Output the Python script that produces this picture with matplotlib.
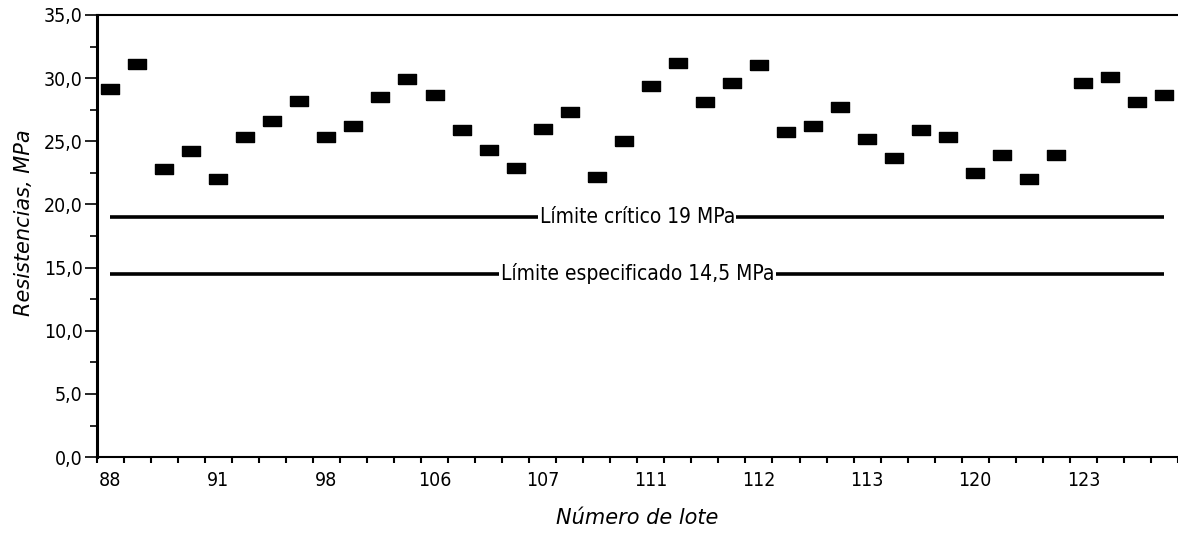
import matplotlib
matplotlib.use("Agg")
import matplotlib.pyplot as plt
from matplotlib.ticker import MultipleLocator

# Resistencia por lote (MPa)
resistencias = [
    29.1, 31.1, 22.8, 24.2, 22.0, 25.3, 26.6, 28.2, 25.3, 26.2,
    28.5, 29.9, 28.7, 25.9, 24.3, 22.9, 26.0, 27.3, 22.2, 25.0,
    29.4, 31.2, 28.1, 29.6, 31.0, 25.7, 26.2, 27.7, 25.2, 23.7,
    25.9, 25.3, 22.5, 23.9, 22.0, 23.9, 29.6, 30.1, 28.1, 28.7,
]
lote_labels = ["88", "91", "98", "106", "107", "111", "112", "113", "120", "123"]
lote_every = 4
y_ticks = [0, 5, 10, 15, 20, 25, 30, 35]

limite_critico = 19.0
limite_especificado = 14.5

narrow = dict(family=["Liberation Sans Narrow", "DejaVu Sans"], stretch="condensed")

fig = plt.figure(figsize=(11.78, 5.34), dpi=100)
ax = fig.add_axes([0.082, 0.144, 0.918, 0.828])

x = list(range(len(resistencias)))

# marcador rectangular apaisado
rect = [(-1, -0.58), (1, -0.58), (1, 0.58), (-1, 0.58), (-1, -0.58)]
ax.plot(x, resistencias, linestyle="none", marker=rect, markersize=13.5,
        color="black", zorder=5)

# limites horizontales con rotulo centrado
for y, txt in [(limite_critico, "Límite crítico 19 MPa"),
               (limite_especificado, "Límite especificado 14,5 MPa")]:
    ax.hlines(y, x[0], x[-1], color="black", linewidth=2.6, zorder=3)
    ax.text((x[0] + x[-1]) / 2, y, txt, ha="center", va="center",
            fontsize=15, zorder=4,
            bbox=dict(facecolor="white", edgecolor="none", pad=1.0), **narrow)

# eje x: rotulos en los centros, marcas en los limites de cada lote
ax.set_xticks(x[::lote_every])
ax.set_xticklabels(lote_labels, fontsize=14, **narrow)
ax.set_xticks([i - 0.5 for i in range(len(resistencias) + 1)], minor=True)
ax.tick_params(axis="x", which="major", length=0, pad=10)
ax.tick_params(axis="x", which="minor", length=4.5, width=1.5, direction="out")

ax.set_yticks(y_ticks)
ax.set_yticklabels([f"{v:.1f}".replace(".", ",") for v in y_ticks],
                   fontsize=14, **narrow)
ax.yaxis.set_minor_locator(MultipleLocator(2.5))
ax.tick_params(axis="y", which="major", length=9, width=1.2, pad=1)
ax.tick_params(axis="y", which="minor", length=5, width=1.2)

ax.set_xlim(-0.5, len(resistencias) - 0.5)
ax.set_ylim(0, 35)

ax.spines["left"].set_linewidth(2.2)
ax.spines["top"].set_linewidth(1.5)
ax.spines["bottom"].set_linewidth(1.5)
ax.spines["right"].set_visible(False)

ax.set_xlabel("Número de lote", fontsize=15, style="italic")
ax.xaxis.set_label_coords(0.5, -0.115)
ax.set_ylabel("Resistencias, MPa", fontsize=15, style="italic")
ax.yaxis.set_label_coords(-0.058, 0.53)

fig.savefig("out.png", dpi=100)
